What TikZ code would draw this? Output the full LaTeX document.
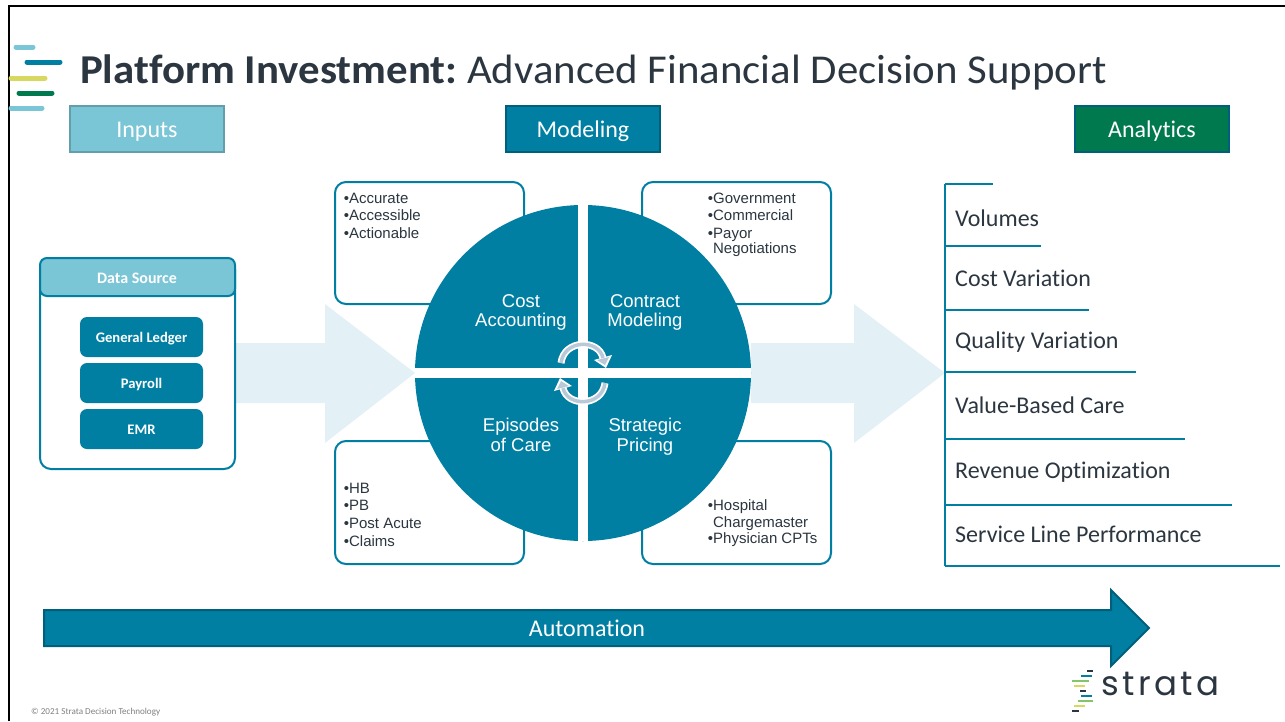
\documentclass[tikz,border=0pt]{standalone}
\usepackage{fontspec}
\setmainfont[Ligatures=NoCommon]{Carlito}
\newfontfamily\titlefont[Ligatures=NoCommon, FakeStretch=1.045]{Carlito}
\newfontfamily\arialfont{Liberation Sans}
\newfontfamily\logofont[LetterSpace=10]{Poppins}
\usetikzlibrary{arrows}
\definecolor{stratablue}{HTML}{007FA3}
\definecolor{stratadark}{HTML}{005F7A}
\definecolor{stratalight}{HTML}{7AC5D6}
\definecolor{stratapale}{HTML}{E3F1F6}
\definecolor{stratagreen}{HTML}{00794F}
\definecolor{stratayellow}{HTML}{D6D860}
\definecolor{stratalime}{HTML}{84C56A}
\definecolor{stratatext}{HTML}{2B3640}
\definecolor{stratacycle}{HTML}{B9C9D8}
\tikzset{
  headbox/.style={draw, line width=2pt, text=white, text height=18pt, text depth=2pt, font=\fontsize{24}{28}\selectfont},
  itembox/.style={fill=stratablue, rounded corners=7pt, text=white, text height=13pt, text depth=2pt, font=\bfseries\fontsize{14.6}{17}\selectfont},
  notebox/.style={draw=stratablue, line width=2pt, rounded corners=11pt, fill=white},
  notetext/.style={anchor=north west, inner sep=0pt, align=left, text=stratatext, font=\arialfont\fontsize{15}{17.6}\selectfont},
  quadtext/.style={align=center, text=white, inner sep=0pt, font=\arialfont\fontsize{18.5}{19.5}\selectfont},
  listtext/.style={anchor=base west, inner sep=0pt, text=stratatext, font=\fontsize{24}{28}\selectfont},
  listline/.style={draw=stratablue, line width=2pt},
  logobar/.style={line width=5pt, line cap=round},
  smallbar/.style={line width=1.6pt},
  cycleedge/.style={white, line width=7pt},
  cyclecore/.style={stratacycle, line width=3.5pt}
}
\begin{document}
\begin{tikzpicture}[x=1pt, y=-1pt]
\useasboundingbox (0,0) rectangle (1285,721);
\draw[line width=2.5pt] (9,721) -- (9,6) -- (1285,6);
\draw[logobar, stratalight] (16,47) -- (33,47);
\draw[logobar, stratablue] (27,62) -- (60,62);
\draw[logobar, stratayellow] (11,78) -- (45,78);
\draw[logobar, stratagreen] (19,93) -- (52,93);
\draw[logobar, stratalight] (11,108) -- (42,108);
\node[anchor=base west, inner sep=0pt, text=stratatext, font=\titlefont\fontsize{41}{48}\selectfont] (title) at (80,83.5) {\textbf{Platform Investment:}\hspace{-3pt} Advanced Financial Decision Support};
\node[headbox, draw=stratalight!80!black, fill=stratalight, minimum width=154pt, minimum height=46pt] (inputs) at (147,129) {Inputs};
\node[headbox, draw=stratadark, fill=stratablue, minimum width=154pt, minimum height=46pt] (modeling) at (583,129) {Modeling};
\node[headbox, draw=stratadark, fill=stratagreen, minimum width=154pt, minimum height=46pt] (analytics) at (1152,129) {Analytics};
\fill[stratapale] (236,343) -- (325,343) -- (325,304) -- (415,373) -- (325,443) -- (325,403) -- (236,403) -- cycle;
\fill[stratapale] (751,343) -- (854,343) -- (854,304) -- (945,373) -- (854,443) -- (854,403) -- (751,403) -- cycle;
\draw[notebox] (40,258) rectangle (235,469);
\draw[draw=stratablue, fill=stratalight, line width=2pt, rounded corners=7pt] (40,258) rectangle (235,296);
\node[text=white, font=\bfseries\fontsize{16}{19}\selectfont] (source) at (137,278) {Data Source};
\node[itembox, minimum width=123pt, minimum height=40pt] (ledger) at (141.5,337) {General Ledger};
\node[itembox, minimum width=123pt, minimum height=40pt] (payroll) at (141.5,383) {Payroll};
\node[itembox, minimum width=123pt, minimum height=40pt] (emr) at (141.5,429) {EMR};
\draw[notebox] (335,182) rectangle (524,304);
\draw[notebox] (642,182) rectangle (831,304);
\draw[notebox] (335,441) rectangle (524,564);
\draw[notebox] (642,441) rectangle (831,564);
\node[notetext] (noteone) at (343.7,192.5) {•Accurate\\•Accessible\\•Actionable};
\node[notetext] (notetwo) at (707.7,192.5) {•Government\\•Commercial\\•Payor\\[-2pt]\hphantom{•}Negotiations};
\node[notetext] (notethree) at (343.7,482.5) {•HB\\•PB\\•Post Acute\\[0.6pt]•Claims};
\node[notetext] (notefour) at (707.7,499.5) {•Hospital\\[-1pt]\hphantom{•}Chargemaster\\[-1pt]•Physician CPTs};
\fill[stratablue] (583,373) circle (168);
\fill[white] (578,205) rectangle (588,541);
\fill[white] (415,368) rectangle (751,378);
\node[quadtext] (cost) at (521,312.5) {Cost\\Accounting};
\node[quadtext] (contract) at (645,312.5) {Contract\\Modeling};
\node[quadtext] (episodes) at (521,435) {Episodes\\of Care};
\node[quadtext] (pricing) at (645,436.5) {Strategic\\Pricing};
\draw[cycleedge] (561,363) .. controls (564,339) and (599,339) .. (603,358);
\fill[white] (594,360) -- (612,355) -- (606,368) -- cycle;
\draw[cyclecore] (561,363) .. controls (564,339) and (599,339) .. (603,358);
\fill[stratacycle] (597,360) -- (609,357) -- (605,365) -- cycle;
\draw[cycleedge] (605,383) .. controls (602,407) and (567,407) .. (563,388);
\fill[white] (572,386) -- (554,391) -- (560,378) -- cycle;
\draw[cyclecore] (605,383) .. controls (602,407) and (567,407) .. (563,388);
\fill[stratacycle] (569,386) -- (557,389) -- (561,381) -- cycle;
\draw[listline] (945,184) -- (945,566);
\draw[listline] (945,184) -- (993,184);
\draw[listline] (945,246) -- (1041,246);
\draw[listline] (945,310) -- (1089,310);
\draw[listline] (945,372) -- (1136,372);
\draw[listline] (945,439) -- (1185,439);
\draw[listline] (945,505) -- (1232,505);
\draw[listline] (945,566) -- (1280,566);
\node[listtext] (volumes) at (955,226) {Volumes};
\node[listtext] (costvar) at (955,286) {Cost Variation};
\node[listtext] (qualvar) at (955,348) {Quality Variation};
\node[listtext] (value) at (955,413) {Value-Based Care};
\node[listtext] (revenue) at (955,478) {Revenue Optimization};
\node[listtext] (service) at (955,542) {Service Line Performance};
\draw[draw=stratadark, fill=stratablue, line width=2pt] (44,610) -- (1111,610) -- (1111,590) -- (1149,628) -- (1111,666) -- (1111,646) -- (44,646) -- cycle;
\node[text=white, font=\fontsize{24}{28}\selectfont] (automation) at (587,628) {Automation};
\draw[smallbar, stratatext] (1087,671) -- (1093,671);
\draw[smallbar, stratablue] (1081,676) -- (1092,676);
\draw[smallbar, stratalime] (1072,681) -- (1089,681);
\draw[smallbar, stratayellow] (1074,686) -- (1085,686);
\draw[smallbar, stratatext] (1080,691) -- (1086,691);
\draw[smallbar, stratablue] (1081,696) -- (1092,696);
\draw[smallbar, stratalime] (1078,701) -- (1093,701);
\draw[smallbar, stratayellow] (1074,706) -- (1085,706);
\draw[smallbar, stratatext] (1072,711) -- (1079,711);
\node[anchor=base west, inner sep=0pt, text=stratatext, font=\logofont\fontsize{34}{40}\selectfont] (logo) at (1101,695) {strata};
\node[anchor=west, inner sep=0pt, text=gray, font=\fontsize{9.1}{11}\selectfont] (copyright) at (31,712.5) {© 2021 Strata Decision Technology};
\end{tikzpicture}
\end{document}
